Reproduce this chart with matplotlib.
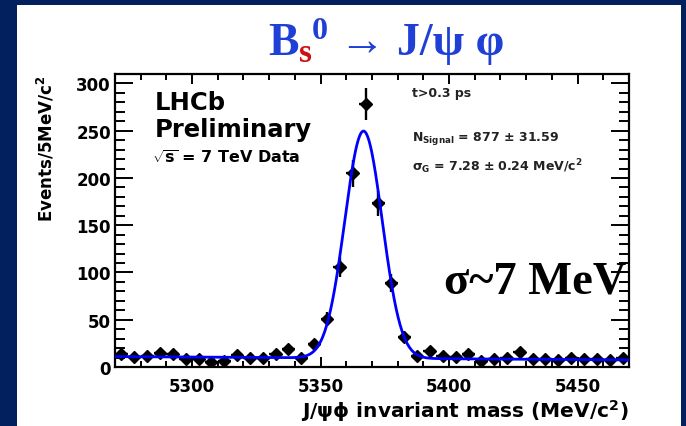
import numpy as np
import matplotlib
matplotlib.use("Agg")
import matplotlib.pyplot as plt
from matplotlib.patches import Rectangle
from matplotlib.ticker import MultipleLocator

plt.rcParams['font.family'] = ['DejaVu Sans']
plt.rcParams['font.weight'] = 'bold'
plt.rcParams['mathtext.fontset'] = 'custom'
plt.rcParams['mathtext.rm'] = 'DejaVu Sans:bold'
plt.rcParams['mathtext.it'] = 'DejaVu Sans:bold'
plt.rcParams['mathtext.bf'] = 'DejaVu Sans:bold'

# ---- data ----
bin_centers = [5272.5, 5277.5, 5282.5, 5287.5, 5292.5, 5297.5, 5302.5, 5307.5,
               5312.5, 5317.5, 5322.5, 5327.5, 5332.5, 5337.5, 5342.5, 5347.5,
               5352.5, 5357.5, 5362.5, 5367.5, 5372.5, 5377.5, 5382.5, 5387.5,
               5392.5, 5397.5, 5402.5, 5407.5, 5412.5, 5417.5, 5422.5, 5427.5,
               5432.5, 5437.5, 5442.5, 5447.5, 5452.5, 5457.5, 5462.5, 5467.5]
counts = [14, 11, 12, 15, 14, 8, 8, 5,
          6, 13, 10, 10, 14, 19, 9, 24,
          51, 106, 205, 278, 173, 89, 32, 12,
          17, 12, 11, 14, 6, 8, 10, 16,
          8, 8, 7, 10, 8, 8, 7, 9]
# fit parameters (signal yield, mean, sigma, background at both ends)
fit_signal = 877
fit_mean = 5366.7
fit_sigma = 7.28
fit_bkg = [11.0, 7.5]
bin_width = 5.0
x_ticks = [5300, 5350, 5400, 5450]
y_ticks = [0, 50, 100, 150, 200, 250, 300]

W, H = 686, 427
fig = plt.figure(figsize=(W / 100, H / 100), dpi=100)
navy = '#03205e'
fig.patch.set_facecolor(navy)
fig.patches.append(Rectangle((17 / W, 0), (681 - 17) / W, (H - 6) / H,
                             transform=fig.transFigure, facecolor='white',
                             edgecolor='none', zorder=-10))

ax = fig.add_axes([115 / W, (H - 368) / H, (629 - 115) / W, (368 - 75) / H])
ax.set_zorder(1)
ax.set_facecolor('white')
ax.set_xlim(5270, 5470)
ax.set_ylim(0, 310)

xc = np.array(bin_centers)
yc = np.array(counts, dtype=float)
ax.errorbar(xc, yc, yerr=np.sqrt(yc), xerr=bin_width / 2, fmt='D', color='black',
            ms=6, elinewidth=1.7, capsize=0, zorder=3)

xf = np.linspace(5270, 5470, 800)
bkg = fit_bkg[0] + (fit_bkg[1] - fit_bkg[0]) * (xf - 5270) / 200.0
sig = fit_signal * bin_width / (np.sqrt(2 * np.pi) * fit_sigma) * \
    np.exp(-0.5 * ((xf - fit_mean) / fit_sigma) ** 2)
ax.plot(xf, sig + bkg, color='#0000ff', lw=2.0, zorder=4)

ax.set_xticks(x_ticks)
ax.set_yticks(y_ticks)
ax.xaxis.set_minor_locator(MultipleLocator(10))
ax.yaxis.set_minor_locator(MultipleLocator(10))
ax.tick_params(axis='both', which='both', direction='in', top=True, right=True,
               width=1.4, labelsize=12)
ax.tick_params(axis='y', which='major', length=13, pad=3)
ax.tick_params(axis='y', which='minor', length=7)
ax.tick_params(axis='x', which='major', length=7, pad=7)
ax.tick_params(axis='x', which='minor', length=4)
for s in ax.spines.values():
    s.set_linewidth(1.6)

ax.set_ylabel(r'Events/5MeV/c$^2$', fontsize=12, fontweight='bold',
              loc='top', labelpad=14)
ax.set_xlabel(r'J/ψϕ invariant mass (MeV/c$^2$)', fontsize=14.5,
              fontweight='bold', loc='right', labelpad=2)

# in-plot texts
def ftext(px, py, s, **kw):
    return fig.text(px / W, 1 - py / H, s, zorder=5, **kw)

ftext(155, 110, 'LHCb', fontsize=17.5, fontweight='bold', va='baseline')
ftext(155, 137, 'Preliminary', fontsize=17.5, fontweight='bold', va='baseline')
ftext(152, 164, r'$\sqrt{s}$ = 7 TeV Data', fontsize=11.5, fontweight='bold', va='baseline')
ftext(412, 97, 't>0.3 ps', fontsize=9, fontweight='bold', va='baseline', color='#222222')
ftext(412, 141, r'N$_{\rm Signal}$ = 877 $\pm$ 31.59', fontsize=9, fontweight='bold',
      va='baseline', color='#222222')
ftext(412, 171, r'$\sigma_{\rm G}$ = 7.28 $\pm$ 0.24 MeV/c$^2$', fontsize=9,
      fontweight='bold', va='baseline', color='#222222')

serif = ['Liberation Serif', 'DejaVu Serif']
ftext(444, 294, 'σ~7 MeV', fontsize=33.5, fontweight='bold', family=serif,
      color='black', va='baseline')

# title built from pieces
blue = '#1f3fd6'
red = '#d01010'
renderer = fig.canvas.get_renderer()
pieces = [('B', blue, 33, 0), ('s', red, 24, -7), ('0', blue, 23, 16),
          (' → J/ψ φ', blue, 33, 0)]
x = 268.0
base = 55.0
for txt, col, fs, dy in pieces:
    t = ftext(x, base - dy, txt, fontsize=fs, fontweight='bold', family=serif,
              color=col, va='baseline')
    bb = t.get_window_extent(renderer)
    x += bb.width

fig.savefig('out.png', dpi=100, facecolor=fig.get_facecolor())
